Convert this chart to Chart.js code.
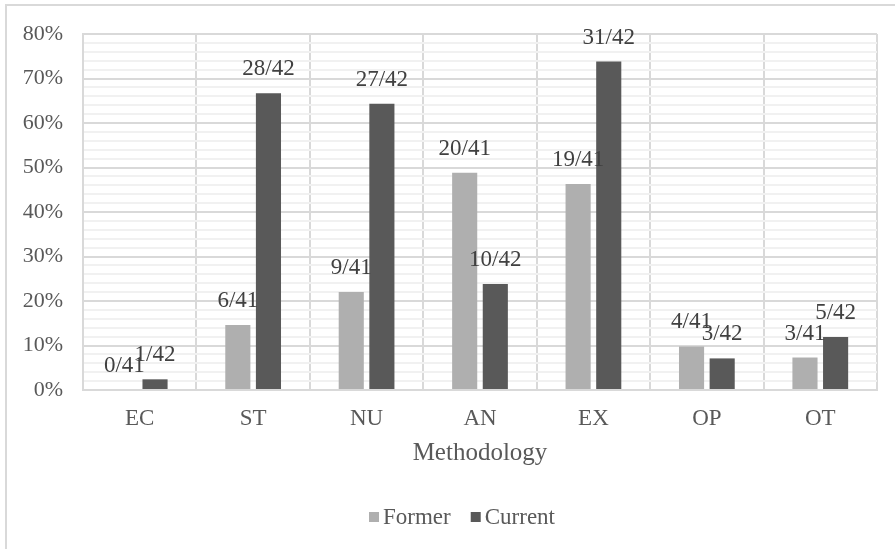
<!DOCTYPE html>
<html>
<head>
<meta charset="utf-8">
<script src="https://cdn.jsdelivr.net/npm/chart.js@4"></script>
<style>
  html, body { margin: 0; padding: 0; background: #fff; }
  #frame {
    position: absolute; left: 5px; top: 4px; width: 1000px; height: 1000px;
    border-left: 2px solid #d9d9d9; border-top: 2px solid #d9d9d9;
  }
  #wrap { position: absolute; left: 0; top: 0; width: 895px; height: 549px; }
</style>
</head>
<body>
<div id="frame"></div>
<div id="wrap"><canvas id="chart"></canvas></div>
<script>
(function() {
  'use strict';

  // ── Data ────────────────────────────────────────────────────
  const categories = ['EC', 'ST', 'NU', 'AN', 'EX', 'OP', 'OT'];
  const formerLabels = ['0/41', '6/41', '9/41', '20/41', '19/41', '4/41', '3/41'];
  const currentLabels = ['1/42', '28/42', '27/42', '10/42', '31/42', '3/42', '5/42'];
  const formerPct = [0, 14.6, 22.0, 48.8, 46.3, 9.8, 7.3];
  const currentPct = [2.4, 66.7, 64.3, 23.8, 73.8, 7.1, 11.9];

  const FONT = '"Liberation Serif", "Times New Roman", serif';
  const TEXT = '#595959';

  // ── Bar value labels ────────────────────────────────────────
  const barLabels = {
    id: 'barLabels',
    afterDatasetsDraw(chart) {
      const ctx = chart.ctx;
      ctx.save();
      ctx.font = '23px ' + FONT;
      ctx.fillStyle = '#404040';
      ctx.textAlign = 'center';
      ctx.textBaseline = 'middle';
      chart.data.datasets.forEach((ds, i) => {
        chart.getDatasetMeta(i).data.forEach((bar, j) => {
          ctx.fillText(ds.valueLabels[j], bar.x, bar.y - 24);
        });
      });
      ctx.restore();
    }
  };

  // ── Legend (small gap between swatch and text, like Excel) ──
  const excelLegend = {
    id: 'excelLegend',
    afterDraw(chart) {
      const ctx = chart.ctx;
      const y = 517, box = 10, gapText = 4, gapItem = 20;
      ctx.save();
      ctx.font = '23px ' + FONT;
      ctx.textBaseline = 'middle';
      const items = chart.data.datasets.map(ds => ({
        text: ds.label, color: ds.backgroundColor,
        w: box + gapText + ctx.measureText(ds.label).width
      }));
      const total = items.reduce((a, it) => a + it.w, 0) + gapItem * (items.length - 1);
      let x = 462 - total / 2;
      items.forEach(it => {
        ctx.fillStyle = it.color;
        ctx.fillRect(x, y - box / 2, box, box);
        ctx.fillStyle = TEXT;
        ctx.fillText(it.text, x + box + gapText, y + 1);
        x += it.w + gapItem;
      });
      ctx.restore();
    }
  };

  new Chart(document.getElementById('chart'), {
    type: 'bar',
    data: {
      labels: categories,
      datasets: [
        { label: 'Former', data: formerPct, valueLabels: formerLabels,
          backgroundColor: '#afafaf', categoryPercentage: 0.54, barPercentage: 0.82 },
        { label: 'Current', data: currentPct, valueLabels: currentLabels,
          backgroundColor: '#595959', categoryPercentage: 0.54, barPercentage: 0.82 }
      ]
    },
    options: {
      responsive: true,
      maintainAspectRatio: false,
      animation: false,
      layout: { padding: { top: 34, right: 18, left: 0, bottom: 79 } },
      plugins: {
        tooltip: { enabled: false },
        legend: { display: false }
      },
      scales: {
        x: {
          grid: { color: '#d9d9d9', lineWidth: 2, drawTicks: false },
          border: { color: '#d9d9d9', width: 2 },
          ticks: { font: { family: FONT, size: 23 }, color: TEXT, padding: 15 },
          title: { display: true, text: 'Methodology', font: { family: FONT, size: 25 }, color: TEXT, padding: { top: 0, bottom: 2 } },
          afterFit: s => { s.height = 80; }
        },
        y: {
          min: 0, max: 80,
          grid: {
            drawTicks: false,
            lineWidth: 2,
            color: c => (c.tick.value % 10 === 0 ? '#d9d9d9' : '#f1f1f1')
          },
          border: { color: '#d9d9d9', width: 2 },
          ticks: {
            stepSize: 2,
            autoSkip: false,
            font: { family: FONT, size: 22 },
            color: TEXT,
            padding: 20,
            callback: v => (v % 10 === 0 ? v + '%' : '')
          },
          afterFit: s => { s.width = 83; }
        }
      }
    },
    plugins: [barLabels, excelLegend]
  });
})();
</script>
</body>
</html>
